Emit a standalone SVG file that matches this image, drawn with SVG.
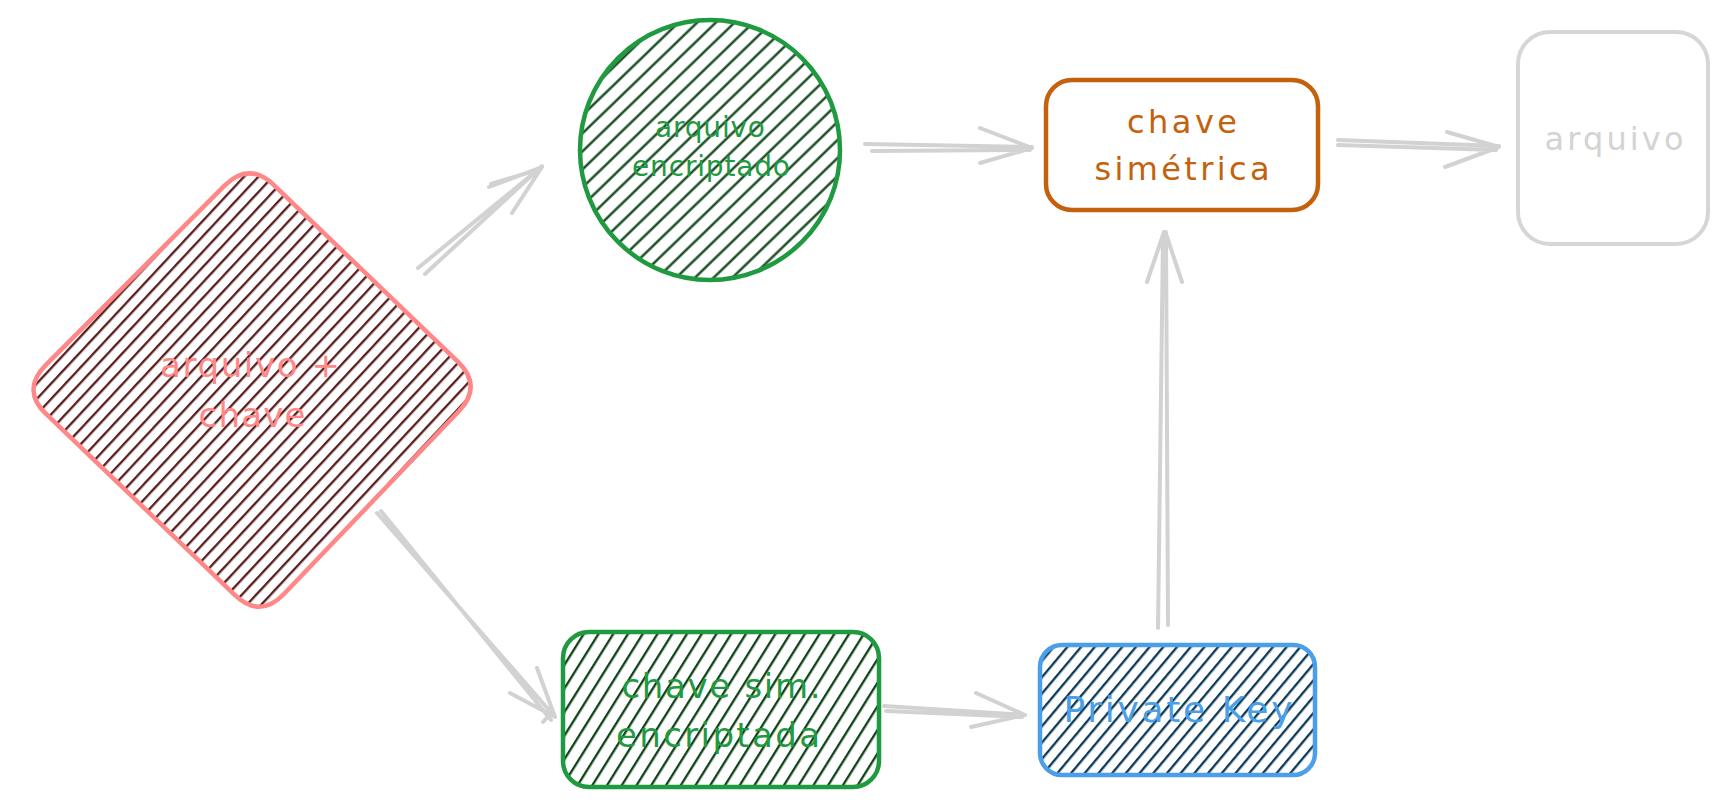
<svg xmlns="http://www.w3.org/2000/svg" width="1726" height="807" viewBox="0 0 1726 807">
<style>
.conn{fill:none;stroke:#d2d2d2;stroke-width:4;stroke-linecap:round;stroke-linejoin:round}
.lbl{font-family:"DejaVu Sans","Liberation Sans",sans-serif;text-anchor:middle}
.hl{stroke-width:2.3;stroke-linecap:butt}
</style>
<defs>
<pattern id="hDiamond" patternUnits="userSpaceOnUse" width="10" height="10.5" patternTransform="rotate(-47)">
<line class="hl" x1="-2" y1="5" x2="12" y2="5" stroke="#561a1a"/>
</pattern>
<pattern id="hCircle" patternUnits="userSpaceOnUse" width="10" height="13" patternTransform="rotate(-44)">
<line class="hl" x1="-2" y1="6.5" x2="12" y2="6.5" stroke="#0a4013"/>
</pattern>
<pattern id="hGreen" patternUnits="userSpaceOnUse" width="10" height="12.5" patternTransform="rotate(-58)">
<line class="hl" x1="-2" y1="6" x2="12" y2="6" stroke="#0a3f12"/>
</pattern>
<pattern id="hBlue" patternUnits="userSpaceOnUse" width="10" height="10.5" patternTransform="rotate(-50)">
<line class="hl" x1="-2" y1="5" x2="12" y2="5" stroke="#093656"/>
</pattern>
</defs>
<rect width="1726" height="807" fill="#ffffff"/>

<g id="connectors">
<g id="a1">
<path class="conn" d="M418,268 L540,168 M425,274 L542,166 M489,187 L542,167 M491,184 L540,169 M512,213 L542,167"/>
</g>
<g id="a2">
<path class="conn" d="M377,513 L555,717 M381,511 L551,720 M510,693 L555,717 M537,668 L555,717 M543,722 L552,712"/>
</g>
<g id="a3">
<path class="conn" d="M865,144 L1032,147 M872,151 L1030,150 M980,128 L1032,148 M980,163 L1032,148"/>
</g>
<g id="a4">
<path class="conn" d="M1338,140 L1499,146 M1338,145 L1496,150 M1447,132 L1499,147 M1445,167 L1499,147"/>
</g>
<g id="a5">
<path class="conn" d="M884,706 L1025,715 M886,711 L1022,717 M976,693 L1025,715 M971,727 L1025,715"/>
</g>
<g id="a6">
<path class="conn" d="M1158,628 L1163,236 M1168,625 L1166,232 M1147,282 L1164,232 M1182,282 L1166,234"/>
</g>
</g>

<g id="node-arquivo-chave">
<path d="M274.2,185.3 L457.8,361.7 Q483,386 458.8,411.3 L284.2,593.7 Q260,619 234.7,594.8 L46.3,414.2 Q21,390 45.7,365.2 L224.3,185.8 Q249,161 274.2,185.3 Z" fill="url(#hDiamond)" stroke="#ff8787" stroke-width="4.5" stroke-linejoin="round"/>
<text class="lbl" x="250" y="377" font-size="34" fill="#ff8787" textLength="180" lengthAdjust="spacing">arquivo +</text>
<text class="lbl" x="252" y="427" font-size="34" fill="#ff8787" textLength="107" lengthAdjust="spacing">chave</text>
</g>

<g id="node-arquivo-encriptado">
<circle cx="710" cy="150" r="130" fill="url(#hCircle)" stroke="#1f9a40" stroke-width="4.5"/>
<text class="lbl" x="710" y="137" font-size="28" fill="#1f9a40" textLength="110" lengthAdjust="spacing">arquivo</text>
<text class="lbl" x="711" y="176" font-size="28" fill="#1f9a40" textLength="158" lengthAdjust="spacing">encriptado</text>
</g>

<g id="node-chave-simetrica">
<rect x="1046" y="80" width="272" height="130" rx="26" fill="none" stroke="#c4610d" stroke-width="4.5"/>
<text class="lbl" x="1182" y="133" font-size="32" fill="#c4610d" textLength="110" lengthAdjust="spacing">chave</text>
<text class="lbl" x="1182" y="180" font-size="32" fill="#c4610d" textLength="175" lengthAdjust="spacing">simétrica</text>
</g>

<g id="node-arquivo">
<rect x="1518" y="32" width="190" height="212" rx="32" fill="none" stroke="#d6d6d6" stroke-width="4"/>
<text class="lbl" x="1614" y="150" font-size="32" fill="#d3d3d3" textLength="139" lengthAdjust="spacing">arquivo</text>
</g>

<g id="node-chave-sim-encriptada">
<rect x="563" y="632" width="316" height="155" rx="26" fill="url(#hGreen)" stroke="#1f9a40" stroke-width="4.5"/>
<text class="lbl" x="721" y="698" font-size="34" fill="#1f9a40" textLength="199" lengthAdjust="spacing">chave sim.</text>
<text class="lbl" x="718" y="747" font-size="34" fill="#1f9a40" textLength="204" lengthAdjust="spacing">encriptada</text>
</g>

<g id="node-private-key">
<rect x="1040" y="645" width="275" height="130" rx="22" fill="url(#hBlue)" stroke="#4a9fe8" stroke-width="4.5"/>
<text class="lbl" x="1178" y="722" font-size="36" fill="#4a9fe8" textLength="229" lengthAdjust="spacing">Private Key</text>
</g>
</svg>
